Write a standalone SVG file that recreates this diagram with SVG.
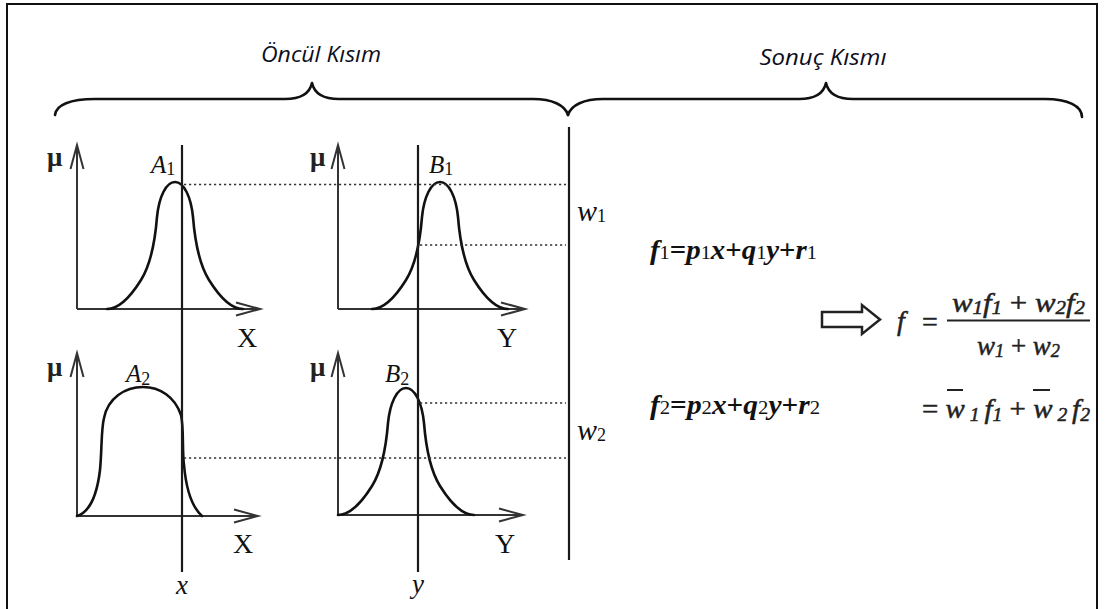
<svg xmlns="http://www.w3.org/2000/svg" xmlns:xlink="http://www.w3.org/1999/xlink" width="1105" height="609" viewBox="0 0 1105 609">
<style>
.frame{fill:none;stroke:#111;stroke-width:2}
.brace{fill:none;stroke:#111;stroke-width:2.6;stroke-linejoin:round;stroke-linecap:round}
.head{font-family:"Open Sans","Liberation Sans",sans-serif;font-style:italic;font-size:21px;fill:#0d0d20}
.axis{fill:none;stroke:#333;stroke-width:2}
.vline{fill:none;stroke:#1a1a1a;stroke-width:2.2}
.dot{fill:none;stroke:#333;stroke-width:1.6;stroke-dasharray:2.2,2.8}
.curve{fill:none;stroke:#111;stroke-width:2.6;stroke-linejoin:round;stroke-linecap:round}
.mu{font-family:"Liberation Serif",serif;font-size:27px;font-weight:bold;fill:#222}
.ax{font-family:"Liberation Serif",serif;font-size:28px;fill:#111}
.it{font-family:"Liberation Serif",serif;font-style:italic;font-size:25px;fill:#111}
.sub{font-style:normal;font-size:18px}
.in{font-family:"Liberation Serif",serif;font-style:italic;font-size:27px;fill:#111}
.w{font-family:"Liberation Serif",serif;font-style:italic;font-size:30px;fill:#111}
.rule{font-family:"Liberation Serif",serif;font-weight:bold;font-size:27px;fill:#111}
.eq{font-family:"Liberation Serif",serif;font-size:28px;fill:#222;stroke:#222;stroke-width:0.5}
.i{font-style:italic}
.s{font-style:italic;font-size:19px}
</style>
<defs>
<marker id="open" markerWidth="30" markerHeight="18" refX="26" refY="9" orient="auto" markerUnits="userSpaceOnUse">
<path d="M2,2.5 L26,9 L2,15.5" fill="none" stroke="#333" stroke-width="2"/>
</marker>
<path id="bell" class="curve" d="M0,0 C-9,0 -16,15 -18,35 C-20,60 -24,82 -34,98 C-44,114 -55,127 -68,127 M0,0 C9,0 16,15 18,35 C20,60 24,82 34,98 C44,114 55,127 68,127"/>
</defs>

<rect class="frame" x="7" y="4" width="1090" height="700"/>

<g id="label-oncul"><text class="head" x="321" y="62" text-anchor="middle" textLength="120" lengthAdjust="spacingAndGlyphs">Öncül Kısım</text></g>
<g id="label-sonuc"><text class="head" x="823" y="65" text-anchor="middle" textLength="127" lengthAdjust="spacingAndGlyphs">Sonuç Kısmı</text></g>
<g id="brace-left"><path class="brace" d="M55,115 C56,105 70,99 95,99 L285,99 C302,99 310,92 312,83 C314,92 322,99 339,99 L533,99 C552,99 565,105 568,115"/></g>
<g id="brace-right"><path class="brace" d="M568,115 C571,105 584,99 603,99 L799,99 C816,99 824,92 826,83 C828,92 836,99 853,99 L1045,99 C1068,99 1082,106 1082,117"/></g>

<g id="graph-A1">
<line class="axis" x1="77" y1="309" x2="77" y2="145" marker-end="url(#open)"/>
<line class="axis" x1="77" y1="309" x2="260" y2="309" marker-end="url(#open)"/>
<use xlink:href="#bell" href="#bell" transform="translate(175,182)"/>
<text class="mu" x="47" y="166">μ</text>
<text class="it" x="151" y="173">A<tspan class="sub" dy="2">1</tspan></text>
<text class="ax" x="247" y="347" text-anchor="middle">X</text>
</g>
<g id="graph-B1">
<line class="axis" x1="338" y1="309" x2="338" y2="145" marker-end="url(#open)"/>
<line class="axis" x1="338" y1="309" x2="525" y2="309" marker-end="url(#open)"/>
<use xlink:href="#bell" href="#bell" transform="translate(440,182)"/>
<text class="mu" x="310" y="166">μ</text>
<text class="it" x="429" y="173">B<tspan class="sub" dy="2">1</tspan></text>
<text class="ax" x="507" y="347" text-anchor="middle">Y</text>
</g>
<g id="graph-A2">
<line class="axis" x1="77" y1="516" x2="77" y2="353" marker-end="url(#open)"/>
<line class="axis" x1="77" y1="516" x2="258" y2="516" marker-end="url(#open)"/>
<path class="curve" d="M77,516 C90,512 97,495 100,470 C102,450 101,430 104,418 C108,398 125,387 143,387 C160,387 175,397 181,415 C184,428 182,450 184,465 C186,488 192,507 202,516"/>
<text class="mu" x="47" y="376">μ</text>
<text class="it" x="126" y="382">A<tspan class="sub" dy="3">2</tspan></text>
<text class="ax" x="243" y="553" text-anchor="middle">X</text>
</g>
<g id="graph-B2">
<line class="axis" x1="338" y1="515" x2="338" y2="353" marker-end="url(#open)"/>
<line class="axis" x1="338" y1="515" x2="523" y2="515" marker-end="url(#open)"/>
<use xlink:href="#bell" href="#bell" transform="translate(406,388)"/>
<text class="mu" x="310" y="376">μ</text>
<text class="it" x="385" y="382">B<tspan class="sub" dy="3">2</tspan></text>
<text class="ax" x="505" y="553" text-anchor="middle">Y</text>
</g>

<g id="input-x">
<line class="vline" x1="182" y1="145" x2="182" y2="572"/>
<text class="in" x="182" y="594" text-anchor="middle">x</text>
</g>
<g id="input-y">
<line class="vline" x1="418" y1="145" x2="418" y2="572"/>
<text class="in" x="418" y="593" text-anchor="middle">y</text>
</g>
<g id="divider"><line class="vline" x1="569" y1="127" x2="569" y2="560"/></g>

<g id="weights">
<text class="w" x="577" y="221">w<tspan class="sub" font-size="20" dy="1">1</tspan></text>
<text class="w" x="577" y="440">w<tspan class="sub" font-size="20" dy="1">2</tspan></text>
</g>

<g id="rule1"><text class="rule" x="650" y="259" textLength="167" lengthAdjust="spacingAndGlyphs"><tspan class="i">f</tspan><tspan font-size="19" font-weight="normal">1</tspan>=<tspan class="i">p</tspan><tspan font-size="19" font-weight="normal">1</tspan><tspan class="i">x</tspan>+<tspan class="i">q</tspan><tspan font-size="19" font-weight="normal">1</tspan><tspan class="i">y</tspan>+<tspan class="i">r</tspan><tspan font-size="19" font-weight="normal">1</tspan></text></g>
<g id="rule2"><text class="rule" x="650" y="414" textLength="170" lengthAdjust="spacingAndGlyphs"><tspan class="i">f</tspan><tspan font-size="19" font-weight="normal">2</tspan>=<tspan class="i">p</tspan><tspan font-size="19" font-weight="normal">2</tspan><tspan class="i">x</tspan>+<tspan class="i">q</tspan><tspan font-size="19" font-weight="normal">2</tspan><tspan class="i">y</tspan>+<tspan class="i">r</tspan><tspan font-size="19" font-weight="normal">2</tspan></text></g>

<g id="output">
<text class="eq" x="897" y="330"><tspan class="i">f</tspan></text>
<text class="eq" x="922" y="331">=</text>
<text class="eq" x="952" y="312" textLength="133" lengthAdjust="spacingAndGlyphs"><tspan class="i">w</tspan><tspan class="s" dy="2">1</tspan><tspan class="i" dy="-2">f</tspan><tspan class="s" dy="2">1</tspan><tspan dy="-2"> + </tspan><tspan class="i">w</tspan><tspan class="s" dy="2">2</tspan><tspan class="i" dy="-2">f</tspan><tspan class="s" dy="2">2</tspan></text>
<line x1="947" y1="320.5" x2="1090" y2="320.5" stroke="#222" stroke-width="2"/>
<text class="eq" x="977" y="355" textLength="83" lengthAdjust="spacingAndGlyphs"><tspan class="i">w</tspan><tspan class="s" dy="2">1</tspan><tspan dy="-2"> + </tspan><tspan class="i">w</tspan><tspan class="s" dy="2">2</tspan></text>
<text class="eq" x="922" y="418" textLength="168" lengthAdjust="spacingAndGlyphs">= <tspan class="i">w</tspan><tspan class="s" dy="3"> 1 </tspan><tspan class="i" dy="-3">f</tspan><tspan class="s" dy="3">1</tspan><tspan dy="-3"> + </tspan><tspan class="i">w</tspan><tspan class="s" dy="3"> 2 </tspan><tspan class="i" dy="-3">f</tspan><tspan class="s" dy="3">2</tspan></text>
<line x1="947" y1="390" x2="963" y2="390" stroke="#222" stroke-width="2"/>
<line x1="1033" y1="390" x2="1050" y2="390" stroke="#222" stroke-width="2"/>
</g>

<g id="connectors">
<line class="dot" x1="184" y1="184.5" x2="566" y2="184.5"/>
<line class="dot" x1="420" y1="245" x2="566" y2="245"/>
<line class="dot" x1="420" y1="403" x2="566" y2="403"/>
<line class="dot" x1="184" y1="458" x2="566" y2="458"/>
<polygon points="822,312 862,312 862,305 880,319.5 862,334 862,327 822,327" fill="#fff" stroke="#222" stroke-width="2.5" stroke-linejoin="miter"/>
</g>
</svg>
